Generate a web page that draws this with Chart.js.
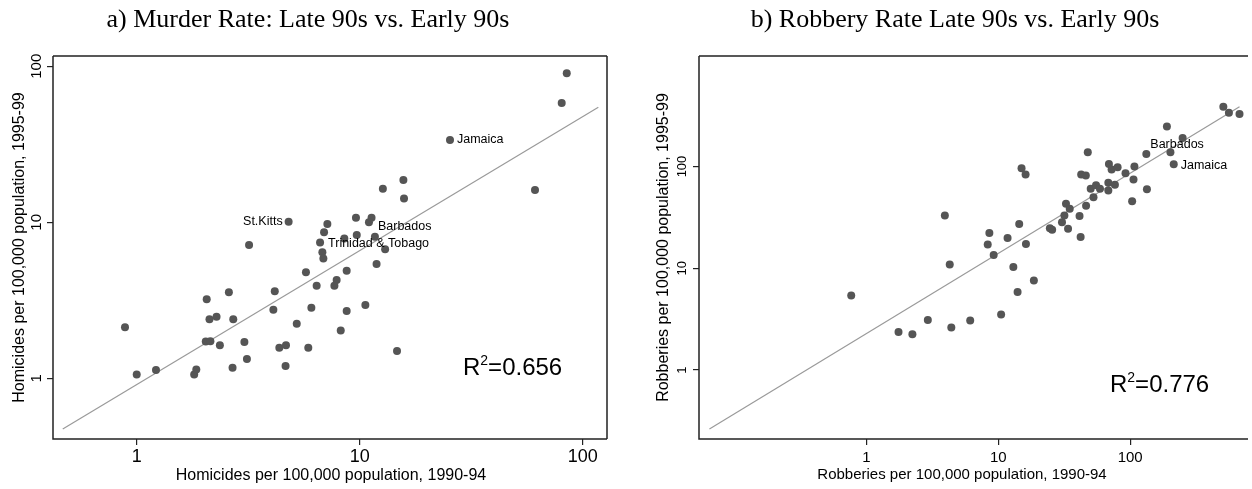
<!DOCTYPE html>
<html>
<head>
<meta charset="utf-8">
<script src="https://cdn.jsdelivr.net/npm/chart.js@4.4.1/dist/chart.umd.min.js"></script>
<style>
  html, body { margin: 0; padding: 0; background: #fff; }
  #wrap { position: relative; width: 1252px; height: 489px; }
  #wrap canvas { position: absolute; left: 0; top: 0; }
</style>
</head>
<body>
<div id="wrap">
  <canvas id="murder" width="1252" height="489"></canvas>
  <canvas id="robbery" width="1252" height="489"></canvas>
</div>
<script>
// a) homicides per 100,000 : early 90s (x) vs late 90s (y)
const murderEarly = [0.886, 1.00, 1.22, 1.81, 1.85, 2.06, 2.12, 2.28, 2.04, 2.14, 2.36, 2.59, 2.71, 2.69,
  3.04, 3.12, 3.19, 4.80, 4.16, 4.10, 4.36, 4.67, 4.65, 5.22, 5.74, 6.41, 6.07, 5.88, 6.64,
  84.8, 80.5, 61.1, 25.4, 15.7, 15.8, 12.7, 9.62, 11.3, 11.0, 9.7, 11.7, 8.53, 13.0, 11.9,
  8.74, 7.88, 7.7, 7.16, 6.92, 6.8, 6.87, 8.74, 8.22, 10.6, 14.7];
const murderLate = [2.13, 1.06, 1.13, 1.06, 1.14, 3.21, 2.39, 2.48, 1.72, 1.73, 1.63, 3.56, 2.39, 1.17,
  1.71, 1.33, 7.15, 10.1, 3.61, 2.75, 1.57, 1.63, 1.20, 2.24, 4.78, 3.92, 2.84, 1.57, 7.43,
  90.2, 58.2, 16.1, 33.7, 18.7, 14.2, 16.4, 10.7, 10.7, 10.0, 8.29, 8.09, 7.89, 6.71, 5.4,
  4.9, 4.27, 3.92, 9.75, 8.63, 6.42, 5.87, 2.7, 2.03, 2.95, 1.5];
const murderFitX = [0.466, 117.5];
const murderFitY = [0.473, 54.6];
const murderNamed = [17, 28, 32, 38];
const murderNames = ['St.Kitts', 'Trinidad & Tobago', 'Jamaica', 'Barbados'];

// b) robberies per 100,000 : early 90s (x) vs late 90s (y)
const robberyEarly = [0.766, 1.75, 2.23, 2.92, 3.93, 4.28, 4.40, 6.12, 8.31, 8.55, 9.22, 10.5, 11.75, 13.0,
  14.0, 14.4, 15.0, 16.1, 16.2, 18.6, 24.6, 25.6, 30.4, 31.7, 32.6, 34.8, 33.8, 41.3, 42.1,
  42.5, 46.1, 47.7, 46.3, 50.2, 52.7, 55.1, 59, 68.3, 68.3, 69, 72.3, 76.6, 80.3, 92.2,
  103.5, 106, 107.7, 132.6, 134, 190, 202, 214, 250, 509, 561, 675];
const robberyLate = [5.4, 2.37, 2.25, 3.10, 33.1, 10.9, 2.62, 3.07, 17.1, 22.2, 13.5, 3.52, 19.8, 10.3,
  5.86, 27.2, 96.2, 83.3, 17.3, 7.57, 24.8, 23.9, 28.4, 33.1, 43.1, 38.5, 24.5, 32.6, 20.3,
  83.3, 81.4, 138, 41.2, 60.4, 50, 65.6, 60.4, 58.2, 69.2, 106, 93.5, 66.1, 98.5, 86,
  45.7, 74.6, 100, 133, 59.9, 247, 138, 105, 191, 387, 338, 329];
const robberyFitX = [0.0644, 675];
const robberyFitY = [0.264, 387];
const robberyNamed = [47, 51];
const robberyNames = ['Barbados', 'Jamaica'];

const tickValues = [1, 10, 100];
const r2Values = ['0.656', '0.776'];

const SANS = '"Liberation Sans", Arial, sans-serif';
const SERIF = '"Liberation Serif", "Times New Roman", serif';

function toPoints(xs, ys) {
  return xs.map((x, i) => ({ x: x, y: ys[i] }));
}

function makePanel(canvas, p) {
  const panelText = {
    id: 'panelText',
    afterDraw(chart) {
      const ctx = chart.ctx;
      const a = chart.chartArea;
      const ys = chart.scales.y;
      ctx.save();
      // frame (the right panel runs off the page on its right side)
      ctx.strokeStyle = '#222';
      ctx.lineWidth = 1.5;
      ctx.beginPath();
      if (p.rightFrame) {
        ctx.moveTo(a.right, a.top);
        ctx.lineTo(a.right, a.bottom);
      }
      ctx.moveTo(a.left, a.top);
      ctx.lineTo(a.right, a.top);
      ctx.moveTo(a.left, a.top);
      ctx.lineTo(a.left, a.bottom);
      ctx.lineTo(a.right, a.bottom);
      ctx.stroke();

      ctx.fillStyle = '#000';
      // panel title
      ctx.font = '26px ' + SERIF;
      ctx.textAlign = 'center';
      ctx.textBaseline = 'alphabetic';
      ctx.fillText(p.title, p.titleX, 27);

      // x axis title
      ctx.font = p.xTitleSize + 'px ' + SANS;
      ctx.textBaseline = 'middle';
      ctx.fillText(p.xTitle, p.xTitleX, p.xTitleY);

      // y tick labels, rotated
      ctx.font = p.yTickSize + 'px ' + SANS;
      ys.ticks.forEach(t => {
        const py = ys.getPixelForValue(t.value);
        ctx.save();
        ctx.translate(p.yTickX, py);
        ctx.rotate(-Math.PI / 2);
        ctx.fillText(String(t.value), 0, 0);
        ctx.restore();
      });

      // y axis title
      ctx.font = '16px ' + SANS;
      ctx.save();
      ctx.translate(p.yTitleX, (a.top + a.bottom) / 2);
      ctx.rotate(-Math.PI / 2);
      ctx.fillText(p.yTitle, 0, 0);
      ctx.restore();

      // country labels
      const meta = chart.getDatasetMeta(0);
      ctx.font = '12.5px ' + SANS;
      p.named.forEach((idx, i) => {
        const el = meta.data[idx];
        const off = p.labelOffsets[i];
        ctx.textAlign = off[0] < 0 ? 'right' : 'left';
        ctx.fillText(p.names[i], el.x + off[0], el.y + off[1]);
      });

      // R squared
      ctx.textAlign = 'left';
      ctx.textBaseline = 'alphabetic';
      ctx.font = '24px ' + SANS;
      let x = p.r2X;
      ctx.fillText('R', x, p.r2Y);
      x += ctx.measureText('R').width;
      ctx.font = '14px ' + SANS;
      ctx.fillText('2', x, p.r2Y - 10);
      x += ctx.measureText('2').width;
      ctx.font = '24px ' + SANS;
      ctx.fillText('=' + p.r2, x, p.r2Y);
      ctx.restore();
    }
  };

  return new Chart(canvas, {
    type: 'scatter',
    data: {
      datasets: [
        {
          data: toPoints(p.xs, p.ys),
          backgroundColor: '#555555',
          borderWidth: 0,
          pointRadius: 4,
          pointHoverRadius: 4
        },
        {
          type: 'line',
          data: toPoints(p.fitX, p.fitY),
          borderColor: '#9a9a9a',
          borderWidth: 1.2,
          pointRadius: 0,
          fill: false
        }
      ]
    },
    options: {
      responsive: false,
      animation: false,
      events: [],
      layout: { padding: p.padding },
      plugins: { legend: { display: false }, title: { display: false }, tooltip: { enabled: false } },
      scales: {
        x: {
          type: 'logarithmic',
          min: p.xMin, max: p.xMax,
          bounds: 'data',
          afterBuildTicks: s => { s.ticks = tickValues.map(v => ({ value: v })); },
          afterFit: s => { s.height = 50; },
          grid: { drawOnChartArea: false, drawTicks: true, tickLength: 6, color: '#222', lineWidth: 1.2 },
          border: { display: false },
          ticks: {
            callback: v => String(v),
            font: { family: SANS, size: p.xTickSize },
            color: '#000',
            padding: p.xTickPad,
            maxRotation: 0
          }
        },
        y: {
          type: 'logarithmic',
          min: p.yMin, max: p.yMax,
          bounds: 'data',
          afterBuildTicks: s => { s.ticks = tickValues.map(v => ({ value: v })); },
          afterFit: s => { s.width = p.yWidth; },
          grid: { drawOnChartArea: false, drawTicks: true, tickLength: 6, color: '#222', lineWidth: 1.2 },
          border: { display: false },
          ticks: { display: false }
        }
      }
    },
    plugins: [panelText]
  });
}

makePanel(document.getElementById('murder'), {
  xs: murderEarly, ys: murderLate, fitX: murderFitX, fitY: murderFitY,
  named: murderNamed, names: murderNames,
  labelOffsets: [[-6, 0], [8, 1], [7, 0], [9, 4]],
  title: 'a) Murder Rate: Late 90s vs. Early 90s', titleX: 308,
  xTitle: 'Homicides per 100,000 population, 1990-94', xTitleX: 331, xTitleY: 476, xTitleSize: 16,
  yTitle: 'Homicides per 100,000 population, 1995-99', yTitleX: 19.5,
  yTickX: 37, yTickSize: 15, xTickSize: 18, xTickPad: 1,
  r2: r2Values[0], r2X: 463, r2Y: 375,
  xMin: 0.4213, xMax: 128.5, yMin: 0.4087, yMax: 116.4,
  padding: { left: 0, right: 645, top: 56, bottom: 0 }, yWidth: 53, rightFrame: true
});

makePanel(document.getElementById('robbery'), {
  xs: robberyEarly, ys: robberyLate, fitX: robberyFitX, fitY: robberyFitY,
  named: robberyNamed, names: robberyNames,
  labelOffsets: [[4, -9], [7, 1]],
  title: 'b) Robbery Rate Late 90s vs. Early 90s', titleX: 955,
  xTitle: 'Robberies per 100,000 population, 1990-94', xTitleX: 962, xTitleY: 475, xTitleSize: 15,
  yTitle: 'Robberies per 100,000 population, 1995-99', yTitleX: 664,
  yTickX: 682, yTickSize: 13, xTickSize: 15, xTickPad: 4,
  r2: r2Values[1], r2X: 1110, r2Y: 392,
  xMin: 0.05366, xMax: 783, yMin: 0.2101, yMax: 1219,
  padding: { left: 639, right: 0, top: 56, bottom: 0 }, yWidth: 60, rightFrame: false
});
</script>
</body>
</html>
